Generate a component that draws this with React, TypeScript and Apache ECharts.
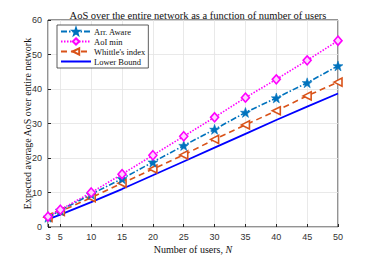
import React, { useEffect, useRef } from "react";
import * as echarts from "echarts";

const users = [3, 5, 10, 15, 20, 25, 30, 35, 40, 45, 50];
const arrAware = [2.8, 4.8, 9.5, 14.0, 18.8, 23.6, 28.3, 33.2, 37.4, 41.8, 46.7];
const aoiMin = [3.0, 5.0, 10.0, 15.3, 20.8, 26.3, 31.8, 37.5, 42.8, 48.3, 54.0];
const whittle = [2.8, 4.5, 8.5, 12.7, 16.8, 20.9, 25.4, 29.6, 33.7, 38.0, 42.0];
const lowerBound = [2.2, 3.6, 7.2, 11.0, 15.0, 19.0, 23.0, 27.0, 31.0, 34.9, 38.7];
const xTicks = [3, 5, 10, 15, 20, 25, 30, 35, 40, 45, 50];

const STAR =
  "path://M0,-10 L2.35,-3.24 L9.51,-3.09 L3.8,1.24 L5.88,8.09 L0,4 L-5.88,8.09 L-3.8,1.24 L-9.51,-3.09 L-2.35,-3.24 Z";
const LINE_ICON = "path://M0,0 L0.01,0 Z M0,3.1 L30,3.1 L30,4.9 L0,4.9 Z M29.99,8 L30,8 Z";

const SERIF = "'Liberation Serif', 'DejaVu Serif', serif";
const SANS = "'Liberation Sans', Arial, sans-serif";

const pairs = (ys: number[]) => users.map((x, i) => [x, ys[i]]);

export default function App() {
  const ref = useRef<HTMLDivElement>(null);
  useEffect(() => {
    const chart = echarts.init(ref.current!, undefined, { renderer: "svg" });
    chart.setOption({
      animation: false,
      backgroundColor: "#fff",
      title: {
        text: "AoS over the entire network as a function of number of users",
        left: 193,
        textAlign: "center",
        top: 5,
        textStyle: { fontFamily: SERIF, fontSize: 10.5, fontWeight: "normal", color: "#111" },
      },
      grid: {
        left: 48,
        right: 36,
        top: 20,
        bottom: 28,
        show: true,
        borderColor: "#262626",
        borderWidth: 1,
        backgroundColor: "#fff",
      },
      legend: {
        orient: "vertical",
        left: 57,
        top: 25,
        itemWidth: 30,
        itemHeight: 8,
        itemGap: 1,
        padding: [2, 3, 2, 3],
        borderColor: "#333",
        borderWidth: 0.8,
        backgroundColor: "#fff",
        textStyle: { fontFamily: SERIF, fontSize: 8.5, color: "#111", padding: [0, 0, 0, -2] },
        data: [
          "Arr. Aware",
          "AoI min",
          "Whittle's index",
          { name: "Lower Bound", icon: LINE_ICON, itemStyle: { color: "#0000ff", borderWidth: 0 } },
        ],
      },
      xAxis: {
        type: "value",
        min: 3,
        max: 50,
        name: "Number of users, {i|N}",
        nameLocation: "middle",
        nameGap: 17,
        nameMoveOverlap: false,
        nameTextStyle: {
          fontFamily: SERIF,
          fontSize: 10,
          color: "#111",
          rich: { i: { fontFamily: SERIF, fontSize: 10, fontStyle: "italic", color: "#111" } },
        },
        axisLine: { show: false },
        axisTick: { show: true, inside: true, length: 3, customValues: xTicks, lineStyle: { color: "#262626" } },
        axisLabel: { customValues: xTicks, fontFamily: SANS, fontSize: 9, color: "#333", margin: 5 },
        splitLine: { show: true, lineStyle: { color: "#e3e3e3", width: 0.8 } },
      },
      yAxis: {
        type: "value",
        min: 0,
        max: 60,
        interval: 10,
        name: "Expected average AoS over entire network",
        nameLocation: "middle",
        nameGap: 16,
        nameMoveOverlap: false,
        nameTextStyle: { fontFamily: SERIF, fontSize: 10, color: "#111" },
        axisLine: { show: false },
        axisTick: { show: true, inside: true, length: 3, lineStyle: { color: "#262626" } },
        axisLabel: { fontFamily: SANS, fontSize: 9, color: "#333", margin: 6 },
        splitLine: { show: true, lineStyle: { color: "#e3e3e3", width: 0.8 } },
      },
      series: [
        {
          name: "Lower Bound",
          type: "line",
          data: pairs(lowerBound),
          showSymbol: false,
          symbol: "none",
          lineStyle: { color: "#0000ff", width: 1.8 },
          itemStyle: { color: "#0000ff" },
          z: 2,
        },
        {
          name: "Whittle's index",
          type: "line",
          data: pairs(whittle),
          symbol: "triangle",
          symbolRotate: 90,
          symbolSize: 8,
          lineStyle: { color: "#D95319", width: 1.6, type: [6, 4] },
          itemStyle: { color: "#fff", borderColor: "#D95319", borderWidth: 1.6 },
          z: 3,
        },
        {
          name: "Arr. Aware",
          type: "line",
          data: pairs(arrAware),
          symbol: STAR,
          symbolSize: 10,
          lineStyle: { color: "#0072BD", width: 1.6, type: [6, 2, 1.5, 2] },
          itemStyle: { color: "#0072BD", borderColor: "#0072BD", borderWidth: 0.5 },
          z: 4,
        },
        {
          name: "AoI min",
          type: "line",
          data: pairs(aoiMin),
          symbol: "diamond",
          symbolSize: [8, 9],
          lineStyle: { color: "#ff00ff", width: 1.6, type: [1.5, 1.5] },
          itemStyle: { color: "#ffd0ff", borderColor: "#ff00ff", borderWidth: 1.6 },
          z: 5,
        },
      ],
    });
    return () => chart.dispose();
  }, []);
  return (
    <div
      ref={ref}
      style={{ position: "fixed", left: 0, top: 0, width: 374, height: 259 }}
    />
  );
}
